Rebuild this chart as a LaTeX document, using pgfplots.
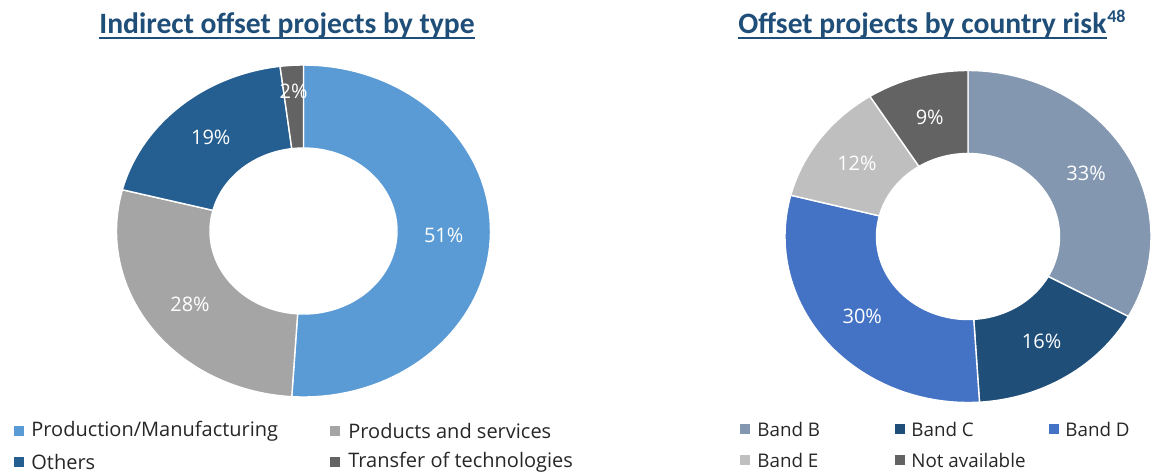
\documentclass[border=0pt]{standalone}
\usepackage{pgfplots}
\pgfplotsset{compat=1.18}
\usepackage{fontspec}
\setmainfont{Open Sans}
\newfontfamily\titlefont{Carlito}
\definecolor{prodC}{HTML}{5B9BD5}
\definecolor{servC}{HTML}{A5A5A5}
\definecolor{othC}{HTML}{255E91}
\definecolor{transC}{HTML}{636363}
\definecolor{bandB}{HTML}{8497B0}
\definecolor{bandC}{HTML}{1F4E79}
\definecolor{bandD}{HTML}{4472C4}
\definecolor{bandE}{HTML}{BFBFBF}
\definecolor{naC}{HTML}{636363}
\definecolor{titleC}{HTML}{1F4E79}
\definecolor{legC}{HTML}{262626}
% slice: start% , end% , colour, label, label radius
\newcommand\slice[5]{%
  \fill[#3, draw=white, line width=0.7pt]
    plot[domain={3.6*#1}:{3.6*#2}, samples=80] ({sin(\x)},{cos(\x)})
    -- plot[domain={3.6*#2}:{3.6*#1}, samples=80] ({0.5*sin(\x)},{0.5*cos(\x)})
    -- cycle;
  \node[text=white, font=\fontsize{10}{12}\selectfont, inner sep=0pt]
    at ({#5*sin(1.8*(#1+#2))},{#5*cos(1.8*(#1+#2))}) {#4};
}
\pgfplotsset{donut/.style={scale only axis, anchor=center, xmin=-1, xmax=1,
  ymin=-1, ymax=1, hide axis, clip=false}}
\begin{document}
\begin{tikzpicture}
\path[use as bounding box] (0,0) rectangle (575.5pt,236.5pt);
% ---- left donut: Indirect offset projects by type
\begin{axis}[donut, at={(151.75pt,121pt)}, width=187pt, height=166pt]
\addplot[draw=none] coordinates {(0,0)};
% Production/Manufacturing 51, Products and services 28, Others 19, Transfer 2
\slice{0}{51}{prodC}{51\%}{0.75}
\slice{51}{79}{servC}{28\%}{0.75}
\slice{79}{98}{othC}{19\%}{0.75}
\slice{98}{100}{transC}{2\%}{0.84}
\end{axis}
% ---- right donut: Offset projects by country risk
\begin{axis}[donut, at={(484pt,118.25pt)}, width=183pt, height=166pt]
\addplot[draw=none] coordinates {(0,0)};
% Band B 33, Band C 16, Band D 30, Band E 12, Not available 9
\slice{0}{33}{bandB}{33\%}{0.75}
\slice{33}{49}{bandC}{16\%}{0.75}
\slice{49}{79}{bandD}{30\%}{0.75}
\slice{79}{91}{bandE}{12\%}{0.75}
\slice{91}{100}{naC}{9\%}{0.75}
\end{axis}
% ---- titles
\node (t1) [anchor=base, inner sep=0pt, text=titleC, font=\titlefont\bfseries\fontsize{14.8}{17}\selectfont]
  at (143.5pt,220pt) {Indirect offset projects by type};
\draw[titleC, line width=1pt] ([yshift=-2.6pt]t1.base west) -- ([yshift=-2.6pt]t1.base east);
\node (t2) [anchor=base west, inner sep=0pt, text=titleC, font=\titlefont\bfseries\fontsize{14.8}{17}\selectfont]
  at (369pt,220pt) {Offset projects by country risk};
\draw[titleC, line width=1pt] ([yshift=-2.6pt]t2.base west) -- ([yshift=-2.6pt]t2.base east);
\node[anchor=base west, inner sep=0pt, text=titleC, font=\titlefont\bfseries\fontsize{9}{10}\selectfont]
  at ([yshift=5.5pt]t2.base east) {48};
% ---- legends
\begin{scope}[every node/.style={anchor=west, inner sep=0pt, text=legC, font=\fontsize{10}{12}\selectfont}]
\fill[prodC] (7pt,18.5pt) rectangle +(5pt,5pt);
\node at (15.5pt,21pt) {Production/Manufacturing};
\fill[servC] (165pt,18.5pt) rectangle +(5pt,5pt);
\node at (174pt,21pt) {Products and services};
\fill[othC] (7pt,3pt) rectangle +(5pt,5pt);
\node at (15.5pt,5.5pt) {Others};
\fill[transC] (165pt,3pt) rectangle +(5pt,5pt);
\node at (174pt,5.5pt) {Transfer of technologies};
\end{scope}
\begin{scope}[every node/.style={anchor=west, inner sep=0pt, text=legC, font=\fontsize{9.4}{11}\selectfont}]
\fill[bandB] (370pt,19.5pt) rectangle +(5pt,5pt);
\node at (378.5pt,22pt) {Band B};
\fill[bandC] (447.5pt,19.5pt) rectangle +(5pt,5pt);
\node at (455.5pt,22pt) {Band C};
\fill[bandD] (524.5pt,19.5pt) rectangle +(5pt,5pt);
\node at (532.5pt,22pt) {Band D};
\fill[bandE] (370pt,4pt) rectangle +(5pt,5pt);
\node at (378.5pt,6.5pt) {Band E};
\fill[naC] (447.5pt,4pt) rectangle +(5pt,5pt);
\node at (455.5pt,6.5pt) {Not available};
\end{scope}
\end{tikzpicture}
\end{document}
